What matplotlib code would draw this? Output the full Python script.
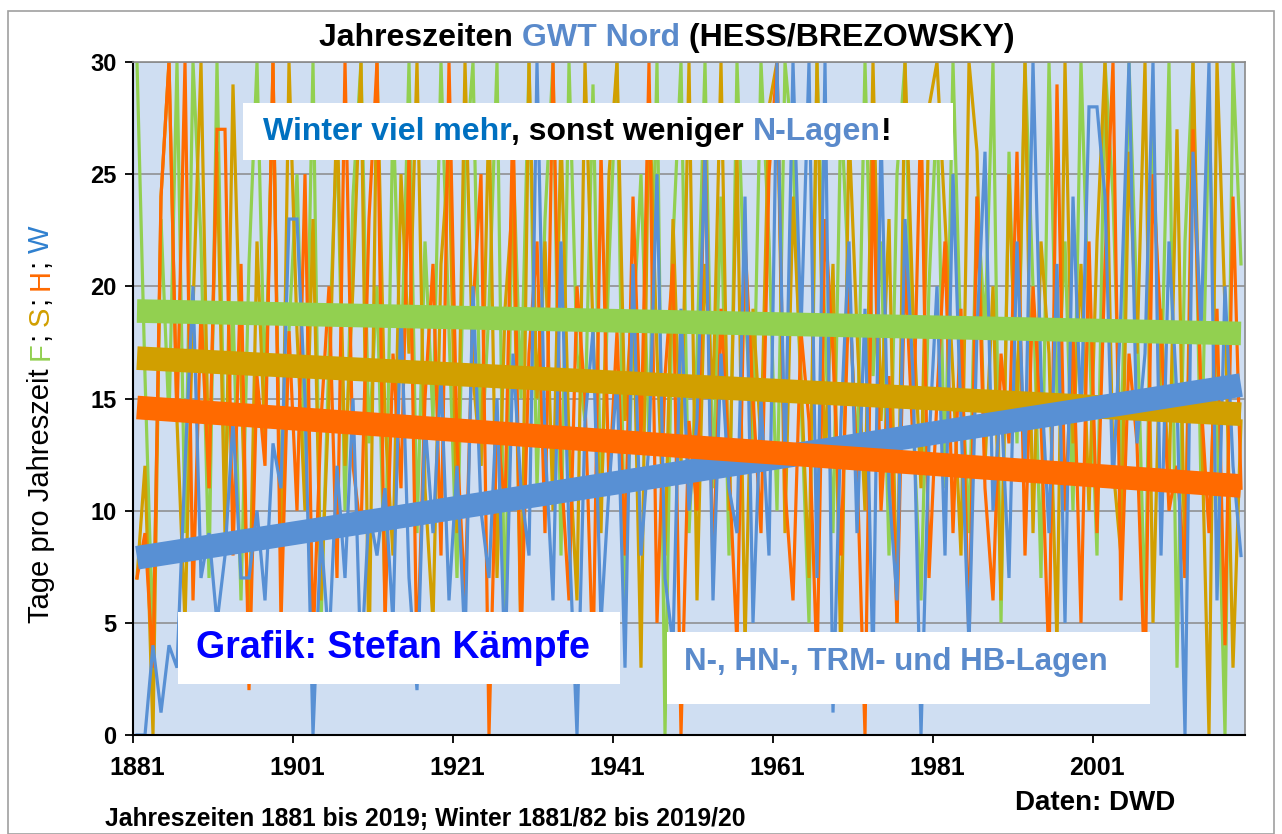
import matplotlib
matplotlib.use("Agg")
import matplotlib.pyplot as plt
import numpy as np
from matplotlib.patches import Rectangle
from matplotlib.text import Annotation

plt.rcParams["font.family"] = ["Liberation Sans", "DejaVu Sans"]

W_PX, H_PX = 1282, 834

# Jahreszeiten 1881..2019, Tage pro Jahreszeit mit N-, HN-, TRM- und HB-Lagen
years = list(range(1881, 2020))

spring = [
    30, 16, 4, 23, 14, 30, 9, 30, 22, 7,
    30, 11, 19, 6, 21, 30, 15, 29, 8, 18,
    25, 12, 30, 5, 17, 27, 10, 24, 30, 13,
    20, 6, 28, 16, 30, 9, 22, 14, 30, 18,
    7, 25, 30, 12, 19, 30, 4, 26, 15, 30,
    11, 23, 30, 8, 30, 17, 14, 29, 10, 21,
    30, 6, 18, 25, 13, 30, 0, 22, 30, 9,
    17, 30, 11, 24, 8, 30, 19, 13, 30, 22,
    10, 30, 26, 15, 5, 30, 18, 9, 28, 20,
    12, 30, 16, 22, 8, 25, 30, 14, 6, 20,
    28, 11, 30, 17, 9, 24, 18, 30, 5, 26,
    13, 30, 20, 7, 30, 15, 22, 10, 30, 18,
    8, 30, 24, 12, 30, 19, 5, 27, 15, 30,
    3, 22, 30, 11, 28, 14, 0, 30, 21,
]
summer = [
    7, 12, 0, 24, 30, 14, 5, 19, 30, 11,
    26, 9, 29, 16, 4, 22, 13, 30, 7, 30,
    18, 10, 23, 6, 15, 28, 12, 20, 30, 3,
    30, 14, 8, 25, 17, 30, 11, 5, 21, 26,
    9, 30, 16, 12, 28, 7, 19, 24, 4, 30,
    15, 22, 10, 27, 13, 6, 30, 18, 9, 25,
    30, 14, 20, 3, 29, 17, 8, 23, 12, 30,
    6, 21, 15, 30, 10, 26, 4, 19, 13, 28,
    30, 9, 24, 16, 7, 30, 12, 21, 3, 27,
    18, 10, 30, 14, 23, 5, 30, 19, 11, 28,
    30, 23, 16, 8, 30, 26, 12, 20, 6, 25,
    14, 30, 9, 22, 17, 4, 30, 13, 21, 10,
    22, 30, 12, 8, 26, 17, 30, 5, 19, 11,
    27, 7, 30, 15, 0, 30, 19, 3, 14,
]
autumn = [
    7, 9, 3, 24, 30, 14, 30, 6, 19, 11,
    27, 27, 8, 21, 2, 16, 12, 30, 5, 18,
    10, 25, 4, 14, 20, 7, 30, 12, 9, 23,
    30, 5, 17, 11, 26, 3, 15, 21, 8, 30,
    13, 6, 19, 25, 0, 14, 10, 28, 4, 17,
    22, 9, 30, 12, 6, 20, 15, 3, 26, 11,
    18, 8, 24, 13, 30, 5, 16, 21, 0, 14,
    10, 27, 7, 19, 12, 4, 22, 15, 9, 25,
    30, 11, 6, 18, 14, 3, 23, 17, 8, 20,
    12, 0, 26, 10, 16, 5, 21, 13, 28, 7,
    15, 22, 9, 19, 4, 24, 11, 6, 17, 13,
    26, 8, 20, 14, 3, 29, 10, 18, 5, 22,
    9, 21, 30, 6, 17, 13, 2, 25, 18, 10,
    12, 7, 27, 15, 9, 19, 4, 24, 11,
]
winter = [
    0, 0, 4, 1, 4, 3, 12, 20, 7, 9,
    5, 8, 14, 7, 7, 10, 6, 13, 11, 23,
    23, 15, 0, 9, 4, 12, 7, 15, 3, 10,
    8, 11, 5, 19, 7, 2, 14, 9, 16, 6,
    12, 4, 20, 10, 7, 15, 3, 17, 11, 8,
    30, 13, 6, 22, 9, 0, 14, 18, 5, 11,
    16, 3, 21, 8, 13, 25, 7, 4, 19, 10,
    14, 26, 6, 17, 11, 9, 24, 5, 15, 8,
    30, 12, 30, 18, 30, 7, 30, 1, 14, 22,
    9, 19, 3, 27, 11, 6, 23, 16, 0, 13,
    20, 8, 25, 14, 4, 18, 26, 10, 15, 7,
    22, 12, 30, 16, 9, 21, 5, 24, 14, 28,
    28, 24, 11, 19, 30, 13, 17, 30, 8, 22,
    15, 0, 26, 18, 30, 6, 20, 12, 8,
]

trend_start = {"F": 18.9, "S": 16.8, "H": 14.6, "W": 7.9}
trend_end = {"F": 17.9, "S": 14.3, "H": 11.1, "W": 15.6}

x_tick_years = [1881, 1901, 1921, 1941, 1961, 1981, 2001]
y_ticks = [0, 5, 10, 15, 20, 25, 30]

C_GREEN = "#92D050"
C_GOLD = "#D19F00"
C_ORANGE = "#FF6A00"
C_BLUE = "#5890D4"
C_BG = "#CFDEF2"
C_TXT_BLUE = "#5A8ACB"

series = [
    ("F", spring, C_GREEN, 2),
    ("S", summer, C_GOLD, 3),
    ("H", autumn, C_ORANGE, 4),
    ("W", winter, C_BLUE, 5),
]
trend_z = {"S": 10, "W": 11, "H": 12, "F": 13}


def fx(px):
    return px / W_PX


def fy(py):
    return 1 - py / H_PX


def chain_text(fig, x, y, pieces, size, weight="bold", rotation=0, zorder=40):
    """Mehrfarbiger Text: Stücke hintereinander, dann als Ganzes zentrieren."""
    first = fig.text(x, y, pieces[0][0], color=pieces[0][1], fontsize=size,
                     fontweight=weight, rotation=rotation, zorder=zorder,
                     ha="left" if rotation == 0 else "center",
                     va="center" if rotation == 0 else "bottom")
    prev = first
    texts = [first]
    for s, c in pieces[1:]:
        if rotation == 0:
            t = Annotation(s, xy=(1, 0), xycoords=prev, ha="left", va="bottom",
                           color=c, fontsize=size, fontweight=weight)
        else:
            t = Annotation(s, xy=(0.5, 1), xycoords=prev, ha="center", va="bottom",
                           color=c, fontsize=size, fontweight=weight,
                           rotation=rotation)
        t.set_zorder(zorder)
        fig.add_artist(t)
        texts.append(t)
        prev = t
    fig.canvas.draw()
    r = fig.canvas.get_renderer()
    boxes = [t.get_window_extent(r) for t in texts]
    inv = fig.transFigure.inverted()
    if rotation == 0:
        x0 = min(b.x0 for b in boxes)
        x1 = max(b.x1 for b in boxes)
        width = inv.transform((x1, 0))[0] - inv.transform((x0, 0))[0]
        first.set_x(x - width / 2)
    else:
        y0 = min(b.y0 for b in boxes)
        y1 = max(b.y1 for b in boxes)
        height = inv.transform((0, y1))[1] - inv.transform((0, y0))[1]
        first.set_y(y - height / 2)
    return texts


fig = plt.figure(figsize=(W_PX / 100, H_PX / 100), dpi=100)
# äußerer Rahmen
fig.add_artist(Rectangle((fx(8), fy(834)), fx(1274 - 8), fy(11) - fy(834),
                         transform=fig.transFigure, fill=False,
                         edgecolor="#A0A0A0", lw=1.2))

ax = fig.add_axes([fx(133), fy(735), fx(1245 - 133), fy(62) - fy(735)])
ax.set_facecolor(C_BG)

yrs = np.array(years)
for key, vals, color, z in series:
    ax.plot(yrs, vals, color=color, lw=2.3, zorder=z, solid_joinstyle="miter")

for key, vals, color, z in series:
    ax.plot([years[0], years[-1]], [trend_start[key], trend_end[key]],
            color=color, lw=17, solid_capstyle="butt", zorder=trend_z[key])

ax.set_xlim(1880.5, 2019.5)
ax.set_ylim(0, 30)
ax.set_yticks(y_ticks)
ax.set_yticklabels([str(v) for v in y_ticks], fontsize=17, fontweight="bold")
ax.set_xticks(x_tick_years)
ax.set_xticklabels([str(v) for v in x_tick_years], fontsize=18, fontweight="bold")
ax.set_xticks([y - 0.5 for y in x_tick_years], minor=True)
ax.tick_params(axis="x", which="major", length=0, pad=15)
ax.tick_params(axis="x", which="minor", length=6, width=1.3, direction="out")
ax.tick_params(axis="y", length=6, width=1.3, direction="out", pad=6)
ax.grid(axis="y", color="#8A8A8A", lw=1.1, zorder=1)
ax.set_axisbelow(True)
for side in ("top", "right"):
    ax.spines[side].set_color("#8A8A8A")
    ax.spines[side].set_linewidth(1.2)
for side in ("left", "bottom"):
    ax.spines[side].set_color("black")
    ax.spines[side].set_linewidth(1.5)
for sp in ax.spines.values():
    sp.set_zorder(20)

# weiße Textkästen im Diagramm
boxes = [(243, 103, 953, 160), (178, 612, 620, 684), (667, 632, 1150, 704)]
for x0, y0, x1, y1 in boxes:
    fig.add_artist(Rectangle((fx(x0), fy(y1)), fx(x1 - x0), fy(y0) - fy(y1),
                             transform=fig.transFigure, facecolor="white",
                             edgecolor="none", zorder=30))

chain_text(fig, fx(577), fy(132), [
    ("Winter viel mehr", "#0070C0"),
    (", sonst weniger ", "black"),
    ("N-Lagen", C_TXT_BLUE),
    ("!", "black"),
], size=23)

fig.text(fx(196), fy(648), "Grafik: Stefan Kämpfe", color="#0000FF",
         fontsize=27, fontweight="bold", ha="left", va="center", zorder=40)
fig.text(fx(684), fy(662), "N-, HN-, TRM- und HB-Lagen", color=C_TXT_BLUE,
         fontsize=22.5, fontweight="bold", ha="left", va="center", zorder=40)

# Titel
chain_text(fig, fx(667), fy(38), [
    ("Jahreszeiten ", "black"),
    ("GWT Nord", C_TXT_BLUE),
    (" (HESS/BREZOWSKY)", "black"),
], size=23)

# y-Achsentitel
chain_text(fig, fx(41), fy(424), [
    ("Tage pro Jahreszeit ", "black"),
    ("F", C_GREEN),
    ("; ", "black"),
    ("S", C_GOLD),
    ("; ", "black"),
    ("H", C_ORANGE),
    ("; ", "black"),
    ("W", "#2F80CF"),
], size=21, weight="normal", rotation=90)

fig.text(fx(105), fy(819), "Jahreszeiten 1881 bis 2019; Winter 1881/82 bis 2019/20",
         fontsize=17.7, fontweight="bold", ha="left", va="center")
fig.text(fx(1015), fy(803), "Daten: DWD", fontsize=20, fontweight="bold",
         ha="left", va="center")

fig.savefig("out.png", dpi=100)
